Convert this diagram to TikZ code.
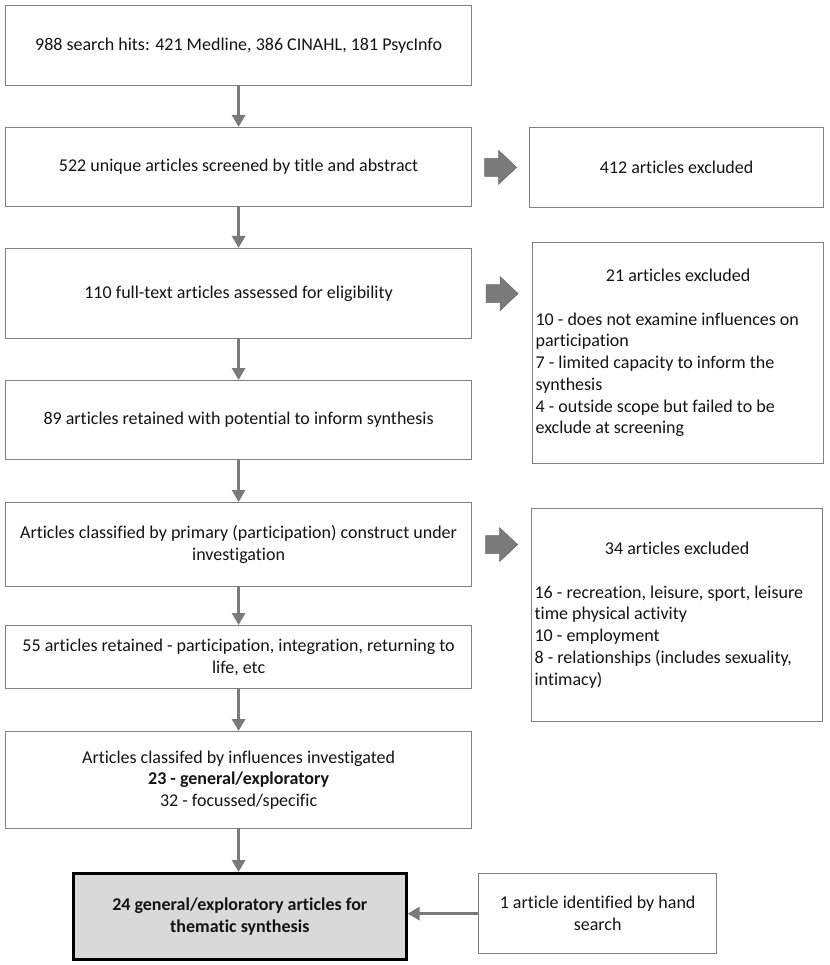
\documentclass[tikz,border=0pt]{standalone}
\usepackage{fontspec}
\setmainfont{Carlito}[Ligatures={NoCommon}]
\usetikzlibrary{arrows.meta,calc}
\definecolor{boxgray}{HTML}{808080}
\definecolor{arrgray}{HTML}{7A7A7A}
\definecolor{arrdark}{HTML}{6A6A6A}
\definecolor{fillgray}{HTML}{D9D9D9}
\definecolor{txt}{HTML}{141414}
\tikzset{
  box/.style={draw=boxgray, line width=1.2pt, fill=white, anchor=north west,
    align=center, inner sep=3pt, text=txt,
    font=\fontsize{18pt}{21.7pt}\selectfont},
  listbox/.style={box, align=flush left, text width=285pt, inner xsep=3pt},
  finalbox/.style={box, draw=black, line width=2.6pt, fill=fillgray},
  flow/.style={draw=arrgray, line width=3pt, -{Triangle[length=12pt,width=13pt]}},
  blockarr/.pic={\filldraw[fill=arrgray, draw=arrdark, line width=0.5pt]
    (-16,-9) -- (-2,-9) -- (-2,-17) -- (16,0) -- (-2,17) -- (-2,9) -- (-16,9) -- cycle;}
}
\begin{document}
\begin{tikzpicture}[x=1pt,y=-1pt]
\useasboundingbox (0,0) rectangle (829,965);
% main column
\node[box, minimum width=466pt, minimum height=80pt] (b1) at (5,5)
  {988 search hits: 421 Medline, 386 CINAHL, 181 PsycInfo};
\node[box, minimum width=466pt, minimum height=79pt] (b2) at (5,127)
  {522 unique articles screened by title and abstract};
\node[box, minimum width=466pt, minimum height=90pt] (b3) at (5,248)
  {110 full-text articles assessed for eligibility};
\node[box, minimum width=466pt, minimum height=79pt] (b4) at (5,380)
  {89 articles retained with potential to inform synthesis};
\node[box, minimum width=466pt, minimum height=84pt] (b5) at (5,502)
  {Articles classified by primary (participation) construct under\\investigation};
\node[box, minimum width=466pt, minimum height=63pt] (b6) at (5,625)
  {55 articles retained - participation, integration, returning to\\life, etc};
\node[box, minimum width=466pt, minimum height=97pt] (b7) at (5,731)
  {Articles classifed by influences investigated\\\textbf{23 - general/exploratory}\\32 - focussed/specific};
\node[finalbox, minimum width=333pt, minimum height=86pt] (b8) at (72,872)
  {\textbf{24 general/exploratory articles for}\\\textbf{thematic synthesis}};
\node[box, minimum width=238pt, minimum height=80pt] (b9) at (478,873)
  {1 article identified by hand\\search};
% right column
\node[box, minimum width=294pt, minimum height=80pt] (r1) at (529,127)
  {412 articles excluded};
\node[listbox, minimum height=221pt] (r2) at (532,242)
  {\makebox[285pt][c]{21 articles excluded}\\[21.7pt]
   10 - does not examine influences on\\
   participation\\
   7 - limited capacity to inform the\\
   synthesis\\
   4 - outside scope but failed to be\\
   exclude at screening};
\node[listbox, minimum height=213pt] (r3) at (531,508)
  {\makebox[285pt][c]{34 articles excluded}\\[21.7pt]
   16 - recreation, leisure, sport, leisure\\
   time physical activity\\
   10 - employment\\
   8 - relationships (includes sexuality,\\
   intimacy)};
% connectors
\draw[flow] (b1) -- (b2);
\draw[flow] (b2) -- (b3);
\draw[flow] (b3) -- (b4);
\draw[flow] (b4) -- (b5);
\draw[flow] (b5) -- (b6);
\draw[flow] (b6) -- (b7);
\draw[flow] (b7.south) -- (b7.south |- b8.north);
\draw[flow] (b9.west) -- (b9.west -| b8.east);
% block arrows
\pic at ($(b2.east)!0.5!(r1.west)$) {blockarr};
\pic at ($(b3.east)!0.5!(r2.west |- b3.east)$) {blockarr};
\pic at ($(b5.east)!0.5!(r3.west |- b5.east)$) {blockarr};
\end{tikzpicture}
\end{document}
